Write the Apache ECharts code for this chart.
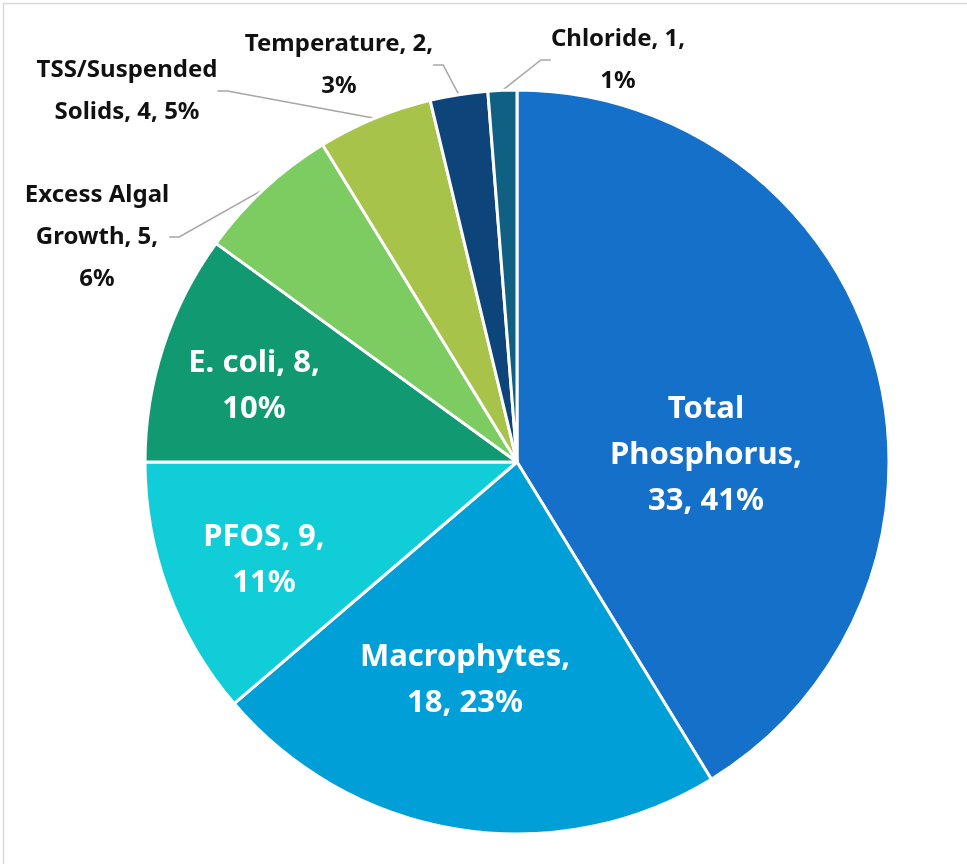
<!DOCTYPE html>
<html>
<head>
<meta charset="utf-8">
<script src="https://cdn.jsdelivr.net/npm/echarts@6/dist/echarts.min.js"></script>
<style>
  html, body { margin: 0; padding: 0; background: #fff; }
  #pie { width: 967px; height: 864px; }
</style>
</head>
<body>
<div id="pie"></div>
<script>
// 数据
const names = ['Total Phosphorus', 'Macrophytes', 'PFOS', 'E. coli', 'Excess Algal Growth', 'TSS/Suspended Solids', 'Temperature', 'Chloride']
const counts = [33, 18, 9, 8, 5, 4, 2, 1]
const colors = ['#1470C8', '#009FD8', '#10CDD8', '#119A72', '#7CCC62', '#A8C34A', '#0D4479', '#0F6083']

// 标签模板 ({v} 数值, {p} 百分比)
const labelTpl = [
    'Total\nPhosphorus,\n{v}, {p}',
    'Macrophytes,\n{v}, {p}',
    'PFOS, {v},\n{p}',
    'E. coli, {v},\n{p}',
    'Excess Algal\nGrowth, {v},\n{p}',
    'TSS/Suspended\nSolids, {v}, {p}',
    'Temperature, {v},\n{p}',
    'Chloride, {v},\n{p}'
]
const inside = [true, true, true, true, false, false, false, false]

// 标签中心点
const labelPos = [[706, 455], [465, 680], [264, 560], [254, 386], [97, 237], [127, 91], [339, 65], [618, 60]]

const total = counts.reduce((a, b) => a + b, 0)

let myChart = echarts.init(document.querySelector('#pie'))

let pieData = names.map((name, i) => {
    return {
        name: name,
        value: counts[i],
        itemStyle: { color: colors[i] },
        label: inside[i] ? {
            color: '#fff',
            fontSize: 31,
            lineHeight: 46
        } : {
            color: '#111',
            fontSize: 24,
            lineHeight: 42
        },
        labelLine: { show: !inside[i] }
    }
})

const option = {
    backgroundColor: '#fff',
    animation: false,
    graphic: [{
        type: 'rect',
        shape: { x: 3.5, y: 3.5, width: 1000, height: 1000 },
        style: { fill: 'none', stroke: '#d9d9d9', lineWidth: 1.5 }
    }],
    series: [{
        type: 'pie',
        center: [517, 462],
        radius: 372,
        startAngle: 90,
        clockwise: true,
        avoidLabelOverlap: false,
        itemStyle: {
            borderColor: '#fff',
            borderWidth: 3
        },
        label: {
            show: true,
            position: 'outside',
            fontFamily: 'Noto Sans, sans-serif',
            fontWeight: 'bold',
            align: 'center',
            formatter: function (p) {
                let pct = Math.round(p.value / total * 100) + '%'
                return labelTpl[p.dataIndex].replace('{v}', p.value).replace('{p}', pct)
            }
        },
        labelLine: {
            length: 15,
            length2: 10,
            smooth: false,
            lineStyle: { color: '#a6a6a6', width: 1.5 }
        },
        labelLayout: function (params) {
            let pos = labelPos[params.dataIndex]
            return {
                x: pos[0],
                y: pos[1],
                align: 'center',
                verticalAlign: 'middle'
            }
        },
        data: pieData
    }]
}

myChart.setOption(option)
</script>
</body>
</html>
